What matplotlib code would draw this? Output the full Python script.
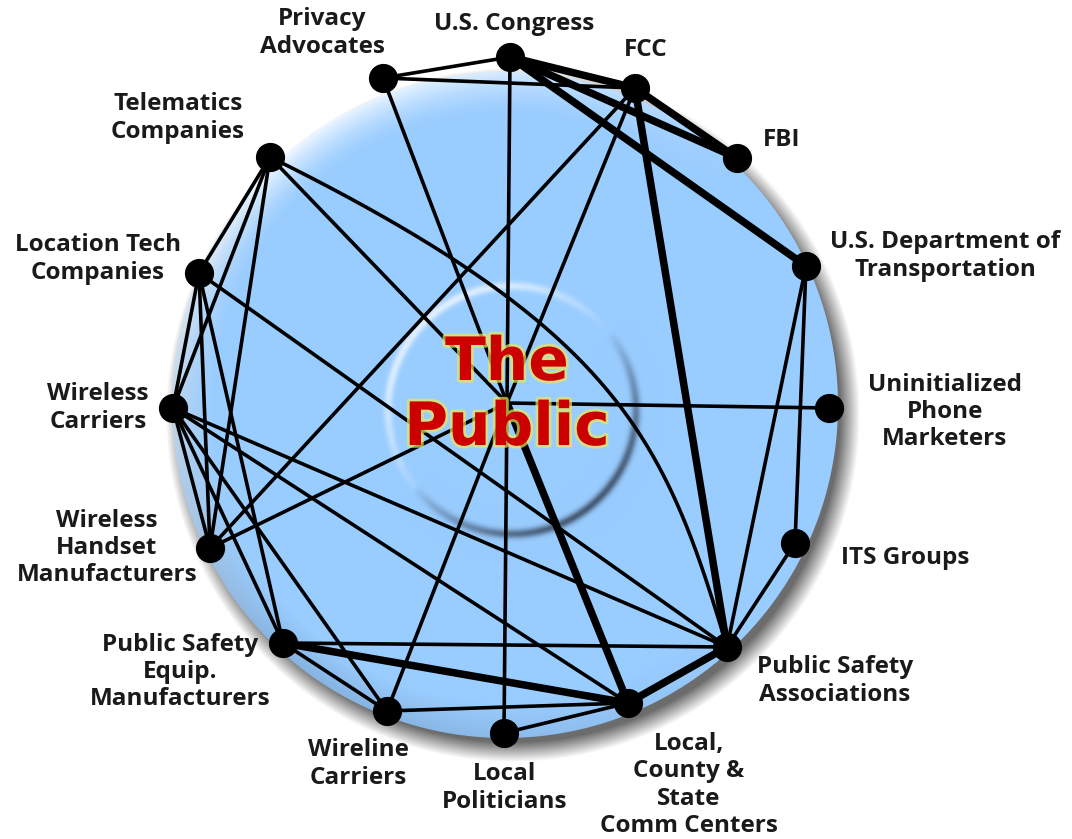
import numpy as np
import matplotlib.pyplot as plt
from matplotlib import patheffects as pe

# Stakeholder map around "The Public" (node positions in picture pixels, y grows downward)
node_keys = ["PA", "USC", "FCC", "FBI", "DOT", "UPM", "ITS", "PSA",
             "LCS", "LP", "WC", "PSE", "WHM", "WCAR", "LT", "TEL", "PUB"]
node_x = [383, 510, 635, 737, 806, 829, 795, 727,
          628, 504, 387, 283, 210, 173, 199, 270, 507]
node_y = [78, 57, 88, 158, 266, 408, 543, 647,
          703, 733, 711, 643, 548, 408, 273, 157, 403]
node_labels = ["Privacy\nAdvocates", "U.S. Congress", "FCC", "FBI",
               "U.S. Department of\nTransportation", "Uninitialized\nPhone\nMarketers",
               "ITS Groups", "Public Safety\nAssociations",
               "Local,\nCounty &\nState\nComm Centers", "Local\nPoliticians",
               "Wireline\nCarriers", "Public Safety\nEquip.\nManufacturers",
               "Wireless\nHandset\nManufacturers", "Wireless\nCarriers",
               "Location Tech\nCompanies", "Telematics\nCompanies", "The Public"]

# relationships: (from, to, strength) -- 2 = strong tie
edges = [("PA", "USC", 1), ("PA", "FCC", 1), ("PA", "PUB", 1),
         ("USC", "FCC", 2), ("USC", "FBI", 2), ("USC", "DOT", 2), ("FCC", "FBI", 2),
         ("USC", "PUB", 1), ("PUB", "LP", 1),
         ("FCC", "PSA", 2), ("FCC", "WHM", 1), ("FCC", "PUB", 1), ("PUB", "WC", 1),
         ("PUB", "UPM", 1), ("PUB", "LCS", 2), ("PUB", "WHM", 1), ("TEL", "PUB", 1),
         ("DOT", "ITS", 1), ("DOT", "PSA", 1), ("ITS", "PSA", 1),
         ("TEL", "LT", 1), ("TEL", "WCAR", 1), ("TEL", "WHM", 1),
         ("LT", "WCAR", 1), ("LT", "WHM", 1), ("LT", "PSE", 1), ("LT", "PSA", 1),
         ("WCAR", "WHM", 1), ("WCAR", "PSE", 1), ("WCAR", "WC", 1),
         ("WCAR", "PSA", 1), ("WCAR", "LCS", 1),
         ("PSE", "PSA", 1), ("PSE", "LCS", 2), ("PSE", "WC", 1),
         ("WC", "LCS", 1), ("LP", "LCS", 1), ("LCS", "PSA", 2)]
curved_edges = [("TEL", "PSA")]

# label offsets from each node (pixels)
label_offset = {"PA": (-61, -45), "USC": (4, -33), "FCC": (11, -38), "FBI": (45, -18),
                "DOT": (139, -10), "UPM": (116, 4), "ITS": (110, 15), "PSA": (108, 34),
                "LCS": (61, 82), "LP": (1, 55), "WC": (-29, 53), "PSE": (-103, 29),
                "WHM": (-103, 0), "WCAR": (-75, 0), "LT": (-101, -14), "TEL": (-92, -39)}

pos = {k: (x, y) for k, x, y in zip(node_keys, node_x, node_y)}

W, H = 1072, 839
fig = plt.figure(figsize=(W / 100, H / 100), dpi=100)
ax = fig.add_axes([0, 0, 1, 1])
ax.set_xlim(0, W)
ax.set_ylim(H, 0)
ax.axis('off')

# --- background disc with rim highlight, drop shadow and the embossed inner ring ---
yy, xx = np.mgrid[0:H, 0:W] + 0.5
cx, cy, R = 505, 405, 333
d = np.hypot(xx - cx, yy - cy) + 1e-9
img = np.ones((H, W, 3))

ds = np.hypot(xx - (cx + 8), yy - (cy + 10))
shade = 0.8 * np.clip((R + 14 - ds) / 20, 0, 1)
img = img * (1 - shade[..., None]) + np.array([0.28, 0.28, 0.28]) * shade[..., None]

base = np.array([0.60, 0.80, 1.0])
disc = np.ones((H, W, 3)) * base
rim = np.clip(1 - (R - d) / 45, 0, 1) ** 1.6
ul = np.clip((-(xx - cx) - (yy - cy)) / (np.sqrt(2) * d), 0, 1)
hl = (rim * ul * 0.85)[..., None]
disc = disc * (1 - hl) + hl
ll = np.clip((-(xx - cx) + (yy - cy)) / (np.sqrt(2) * d), 0, 1)
dk = (np.clip(1 - (R - d) / 35, 0, 1) * ll * 0.12)[..., None]
disc = disc * (1 - dk)

rcx, rcy, r0 = 512, 410, 124
rd = np.hypot(xx - rcx, yy - rcy)
prof = np.exp(-((rd - r0) / 4.5) ** 2)
th = np.arctan2(-(yy - rcy), xx - rcx)
wring = (prof * np.clip(np.cos(th - 2.3), 0, 1) ** 0.8 * 0.7)[..., None]
dring = (prof * np.clip(np.cos(th + 0.9), 0, 1) ** 0.8 * 0.8)[..., None]
disc = disc * (1 - wring) + wring
disc = disc * (1 - dring) + np.array([0.2, 0.25, 0.33]) * dring

a = np.clip(R - d + 0.5, 0, 1)[..., None]
img = img * (1 - a) + disc * a
ax.imshow(img, extent=(0, W, H, 0), zorder=0, interpolation='bilinear')

# --- edges ---
for s, t, w in edges:
    (x0, y0), (x1, y1) = pos[s], pos[t]
    ax.plot([x0, x1], [y0, y1], color='black', lw=2.6 if w == 1 else 5.4,
            solid_capstyle='round', zorder=2)

tt = np.linspace(0, 1, 200)
for s, t in curved_edges:
    p0, p3 = np.array(pos[s], float), np.array(pos[t], float)
    p1 = p0 + np.array([350, 173])
    p2 = p3 - np.array([62, 207])
    c = ((1 - tt) ** 3)[:, None] * p0 + (3 * (1 - tt) ** 2 * tt)[:, None] * p1 \
        + (3 * (1 - tt) * tt ** 2)[:, None] * p2 + (tt ** 3)[:, None] * p3
    ax.plot(c[:, 0], c[:, 1], color='black', lw=2.6, zorder=2)

# --- nodes and labels ---
outer = [k for k in node_keys if k != "PUB"]
ax.plot([pos[k][0] for k in outer], [pos[k][1] for k in outer], 'o',
        color='black', markersize=20, zorder=3)

for k, lab in zip(node_keys, node_labels):
    if k == "PUB":
        continue
    dx, dy = label_offset[k]
    ax.text(pos[k][0] + dx, pos[k][1] + dy, lab, ha='center', va='center',
            multialignment='center', fontsize=17.5, fontweight='bold',
            family='Open Sans', color='#1a1a1a', linespacing=1.18, zorder=4)

# centre title
glow = [pe.withStroke(linewidth=4, foreground='#e8e85a', alpha=0.7)]
px, py = pos["PUB"]
first, second = node_labels[-1].split(" ")
ax.text(px, py - 23, first, ha='center', va='baseline', fontsize=43,
        fontweight='bold', color='#cc0000', family='DejaVu Sans',
        path_effects=glow, zorder=5)
ax.text(px, py + 42, second, ha='center', va='baseline', fontsize=43,
        fontweight='bold', color='#cc0000', family='DejaVu Sans',
        path_effects=glow, zorder=5)

plt.savefig("out.png", dpi=100)
